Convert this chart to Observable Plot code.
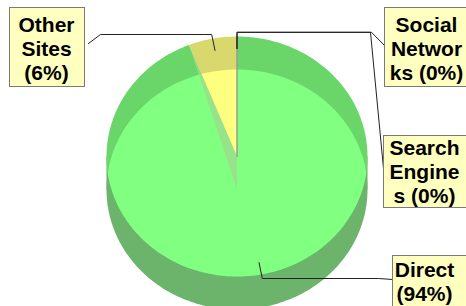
<!DOCTYPE html>
<html>
<head>
<meta charset="utf-8">
<script src="https://cdn.jsdelivr.net/npm/d3@7"></script>
<script src="https://cdn.jsdelivr.net/npm/@observablehq/plot@0.6"></script>
<style>
  html, body { margin: 0; padding: 0; background: #ffffff; overflow: hidden; }
  #chart svg { display: block; }
</style>
</head>
<body>
<div id="chart"></div>
<script>
// ---- data ----
const categories = ["Direct", "Other Sites", "Search Engines", "Social Networks"];
const percents = [94, 6, 0, 0];

// ---- styles ----
const lightColors = ["#80ff80", "#ffff80", "#8080ff", "#ff8080"];
const topBandColors = ["#6ad66a", "#d8d86c", "#6a6ad6", "#d66a6a"];
const bottomBandColor = "#6cb46c";
const sideFaceColor = "#9fd98f";

// ---- layout (pixels) ----
const W = 466, H = 306;
const cx = 236.5, cy1 = 156, ra = 130.5, rb = 120, depth = 33, cy2 = cy1 + depth;
const labelFont = "Liberation Sans";
const labelSize = 21, labelLine = 24, labelMaxWidth = 77;
const labelLayout = {
  "Other Sites":     {side: "left",  x1: 9.5,   x2: 84.5,  y1: 7.5,   y2: 86.5,  tx: 46,  ty: 14,  elbowX: 100, endX: 88,  endY: 43},
  "Social Networks": {side: "right", x1: 384.5, x2: 480,   y1: 7.5,   y2: 86.5,  tx: 426, ty: 14,  elbowX: 371, endX: 384, endY: 45},
  "Search Engines":  {side: "right", x1: 383.5, x2: 480,   y1: 135.5, y2: 207.5, tx: 424, ty: 137, elbowX: 370, endX: 383, endY: 168},
  "Direct":          {side: "right", x1: 392.5, x2: 480,   y1: 255.5, y2: 320,   tx: 424, ty: 259, elbowX: 378, endX: 392, endY: 279}
};

// ---- geometry helpers ----
function pt(cy, theta, k = 1) {
  const r = theta * Math.PI / 180;
  return {x: cx + k * ra * Math.sin(r), y: cy - k * rb * Math.cos(r)};
}
function ellipse(cy) {
  return d3.range(0, 360, 1.5).map(t => pt(cy, t));
}
function slicePoly(cy, t0, t1) {
  const n = Math.max(2, Math.ceil((t1 - t0) / 1.5));
  const pts = [{x: cx, y: cy}];
  for (let i = 0; i <= n; i++) pts.push(pt(cy, t0 + (t1 - t0) * i / n));
  return pts;
}
function clipPoly(subject, clip) {
  let area = 0;
  for (let i = 0; i < clip.length; i++) {
    const p = clip[i], q = clip[(i + 1) % clip.length];
    area += p.x * q.y - q.x * p.y;
  }
  const s = Math.sign(area);
  let output = subject.slice();
  for (let i = 0; i < clip.length && output.length; i++) {
    const A = clip[i], B = clip[(i + 1) % clip.length];
    const cr = p => s * ((B.x - A.x) * (p.y - A.y) - (B.y - A.y) * (p.x - A.x));
    const input = output; output = [];
    for (let j = 0; j < input.length; j++) {
      const cur = input[j], prev = input[(j + input.length - 1) % input.length];
      const cc = cr(cur), cp = cr(prev);
      const inter = () => { const t = cp / (cp - cc); return {x: prev.x + t * (cur.x - prev.x), y: prev.y + t * (cur.y - prev.y)}; };
      if (cc >= 0) { if (cp < 0) output.push(inter()); output.push(cur); }
      else if (cp >= 0) output.push(inter());
    }
  }
  return output;
}
const close = p => p.length ? [...p, p[0]] : p;

// ---- slices (clockwise from 12 o'clock) ----
const total = d3.sum(percents);
let acc = 0;
const slices = categories.map((c, i) => {
  const t0 = acc / total * 360; acc += percents[i];
  const t1 = acc / total * 360;
  return {cat: c, value: percents[i], i, t0, t1, mid: (t0 + t1) / 2};
});

// ---- label wrapping (as measured) ----
const ctx = document.createElement("canvas").getContext("2d");
ctx.font = `bold ${labelSize}px "${labelFont}"`;
const mw = s => ctx.measureText(s).width;
function wrap(text, maxW) {
  const words = text.split(" ");
  const lines = [];
  let cur = "";
  for (const word of words) {
    const cand = cur ? cur + " " + word : word;
    if (mw(cand) <= maxW) { cur = cand; continue; }
    if (cur) lines.push(cur);
    let w = word;
    while (mw(w) > maxW) {
      let k = w.length;
      while (k > 1 && mw(w.slice(0, k)) > maxW) k--;
      lines.push(w.slice(0, k));
      w = w.slice(k);
    }
    cur = w;
  }
  if (cur) lines.push(cur);
  return lines.join("\n");
}

const labels = slices.map(s => ({...s, ...labelLayout[s.cat], text: wrap(`${s.cat} (${s.value}%)`, labelMaxWidth)}));

// ---- build marks ----
const fillPoly = (pts, fill, extra = {}) =>
  Plot.line(close(pts), {x: "x", y: "y", fill, stroke: "none", ...extra});

const marks = [];
// lower face (bottom band)
marks.push(fillPoly(ellipse(cy2), bottomBandColor));
marks.push(fillPoly([{x: cx - ra, y: cy1}, {x: cx + ra, y: cy1}, {x: cx + ra, y: cy2}, {x: cx - ra, y: cy2}], bottomBandColor));
// upper face (top band colours)
for (const s of slices) if (s.t1 > s.t0) marks.push(fillPoly(slicePoly(cy1, s.t0, s.t1), topBandColors[s.i]));
// overlapping region, light colours
const lowerE = ellipse(cy2);
for (const s of slices) if (s.t1 > s.t0) marks.push(fillPoly(clipPoly(slicePoly(cy1, s.t0, s.t1), lowerE), lightColors[s.i]));
// side faces at slice boundaries
for (const s of slices) {
  for (const t of [s.t0]) {
    const P1 = pt(cy1, t);
    marks.push(fillPoly([{x: cx, y: cy1}, P1, {x: cx, y: cy2}], sideFaceColor, {fillOpacity: 0.75}));
  }
}
// outlines of empty slices
for (const s of slices) if (s.value === 0) {
  marks.push(Plot.line([{x: cx, y: cy1}, pt(cy1, s.t0)], {x: "x", y: "y", stroke: "#9a9a9a", strokeWidth: 1}));
}
// leader lines
const leaders = labels.flatMap(l => {
  const inner = pt(cy1, l.mid, 0.9), outer = pt(cy1, l.mid, 1.035);
  return [inner, outer, {x: l.elbowX, y: outer.y}, {x: l.endX, y: l.endY}].map(p => ({...p, cat: l.cat}));
});
marks.push(Plot.line(leaders, {x: "x", y: "y", z: "cat", stroke: "#222", strokeWidth: 1}));
// label boxes and texts
marks.push(Plot.rect(labels, {x1: "x1", x2: "x2", y1: "y1", y2: "y2", fill: "#ffffc0", stroke: "#7a7a7a", strokeWidth: 1}));
marks.push(Plot.text(labels, {
  x: "tx", y: "ty", text: "text", lineAnchor: "top", textAnchor: "middle",
  fontSize: labelSize, fontWeight: "bold", fontFamily: labelFont, lineHeight: labelLine / labelSize, fill: "#000"
}));

const chart = Plot.plot({
  width: W, height: H,
  margin: 0,
  x: {domain: [0, W], range: [0, W], axis: null},
  y: {domain: [0, H], range: [0, H], axis: null},
  style: {background: "#ffffff", fontFamily: labelFont, overflow: "hidden"},
  marks
});
document.getElementById("chart").appendChild(chart);
</script>
</body>
</html>
